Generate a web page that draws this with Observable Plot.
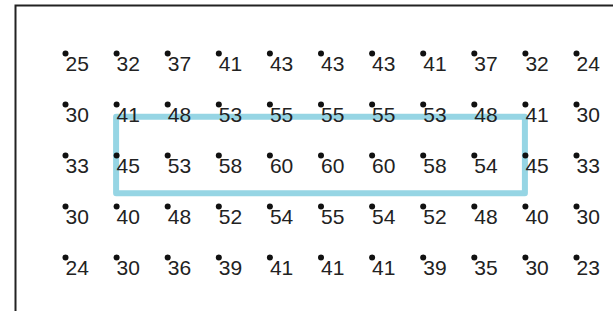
<!DOCTYPE html>
<html>
<head>
<meta charset="utf-8">
<script src="https://cdn.jsdelivr.net/npm/d3@7"></script>
<script src="https://cdn.jsdelivr.net/npm/@observablehq/plot@0.6"></script>
<style>
  html, body { margin: 0; padding: 0; background: #fff; overflow: hidden; }
</style>
</head>
<body>
<div id="chart"></div>
<script>
const columns = [0, 1, 2, 3, 4, 5, 6, 7, 8, 9, 10];
const row0 = [25, 32, 37, 41, 43, 43, 43, 41, 37, 32, 24];
const row1 = [30, 41, 48, 53, 55, 55, 55, 53, 48, 41, 30];
const row2 = [33, 45, 53, 58, 60, 60, 60, 58, 54, 45, 33];
const row3 = [30, 40, 48, 52, 54, 55, 54, 52, 48, 40, 30];
const row4 = [24, 30, 36, 39, 41, 41, 41, 39, 35, 30, 23];
const rows = [row0, row1, row2, row3, row4];

// highlighted region in grid units (columns 1..9, between rows)
const highlight = [{x1: 1, x2: 9, y1: 1.25, y2: 2.75}];

const cells = [];
rows.forEach((vals, r) => vals.forEach((v, c) => cells.push({col: columns[c], row: r, value: v})));

const chart = Plot.plot({
  width: 613,
  height: 311,
  marginLeft: 65,
  marginRight: 37,
  marginTop: 53,
  marginBottom: 54,
  x: {domain: [0, 10], axis: null},
  y: {domain: [0, 4], reverse: true, axis: null},
  style: {fontFamily: "'Liberation Sans', Arial, sans-serif", background: "#fff"},
  marks: [
    Plot.frame({stroke: "#222", strokeWidth: 2, insetLeft: -50, insetTop: -48, insetRight: -80, insetBottom: -80}),
    Plot.rect(highlight, {x1: "x1", x2: "x2", y1: "y1", y2: "y2", fill: "none", stroke: "#96d5e4", strokeWidth: 6, strokeLinejoin: "round"}),
    Plot.dot(cells, {x: "col", y: "row", r: 3, fill: "#111", stroke: "none"}),
    Plot.text(cells, {x: "col", y: "row", text: d => String(d.value), textAnchor: "start", dx: 0, dy: 11, fontSize: 21, fill: "#222"})
  ]
});
document.getElementById("chart").appendChild(chart);
</script>
</body>
</html>
